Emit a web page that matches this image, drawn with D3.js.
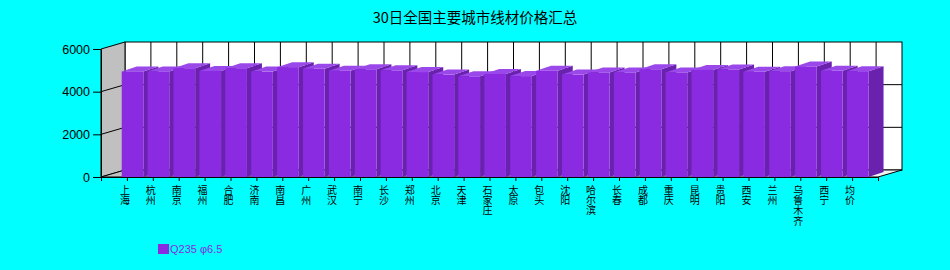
<!DOCTYPE html>
<html>
<head>
<meta charset="utf-8">
<script src="https://cdn.jsdelivr.net/npm/d3@7"></script>
<style>
  html, body { margin: 0; padding: 0; background: #00ffff; }
  svg { display: block; }
</style>
</head>
<body>
<svg id="chart" width="950" height="270"></svg>
<script>
const title = "30日全国主要城市线材价格汇总";
const seriesName = "Q235 φ6.5";
const cities = ["上海", "杭州", "南京", "福州", "合肥", "济南", "南昌", "广州", "武汉", "南宁",
  "长沙", "郑州", "北京", "天津", "石家庄", "太原", "包头", "沈阳", "哈尔滨", "长春",
  "成都", "重庆", "昆明", "贵阳", "西安", "兰州", "乌鲁木齐", "西宁", "均价"];
const prices = [4950, 4950, 5100, 4970, 5100, 4940, 5150, 5070, 4980, 5050,
  5000, 4920, 4800, 4720, 4830, 4730, 4980, 4800, 4900, 4900,
  5050, 4900, 5020, 5040, 4930, 4960, 5180, 4975, 4960];
const yTicks = [0, 2000, 4000, 6000];

const svg = d3.select("#chart");
const width = 950, height = 270;

// front plane and depth offsets
const x = d3.scaleLinear().domain([0, 30]).range([101, 878]);
const y = d3.scaleLinear().domain([0, 6000]).range([177, 49]);
const depthX = 24, depthY = 7;
const barDX = 15, barDY = 5;

const x0 = x(0), x1 = x(30), yTop = y(6000), yBase = y(0);

// title
svg.append("text")
  .attr("x", width / 2)
  .attr("y", 22.5)
  .attr("text-anchor", "middle")
  .style("font-family", "'Noto Sans CJK SC', sans-serif")
  .style("font-size", "14.5px")
  .attr("fill", "#000")
  .text(title);

// back wall
svg.append("rect")
  .attr("x", x0 + depthX).attr("y", yTop - depthY)
  .attr("width", x1 - x0).attr("height", yBase - yTop)
  .attr("fill", "#fff").attr("stroke", "#000");

// left wall
svg.append("polygon")
  .attr("points", [[x0, yTop], [x0 + depthX, yTop - depthY], [x0 + depthX, yBase - depthY], [x0, yBase]].join(" "))
  .attr("fill", "#c0c0c0").attr("stroke", "#000");

// floor
const floorGrad = svg.append("defs").append("linearGradient")
  .attr("id", "floorGrad").attr("x1", "0").attr("x2", "1");
floorGrad.append("stop").attr("offset", "0").attr("stop-color", "#c0c0c0");
floorGrad.append("stop").attr("offset", "1").attr("stop-color", "#f4f4f4");
svg.append("polygon")
  .attr("points", [[x0, yBase], [x0 + depthX, yBase - depthY], [x1 + depthX, yBase - depthY], [x1, yBase]].join(" "))
  .attr("fill", "url(#floorGrad)").attr("stroke", "#000");

// grid on back wall and left wall
svg.append("g").selectAll("line")
  .data(yTicks.slice(1, -1))
  .join("line")
  .attr("x1", x0 + depthX).attr("x2", x1 + depthX)
  .attr("y1", d => y(d) - depthY).attr("y2", d => y(d) - depthY)
  .attr("stroke", "#000");
svg.append("g").selectAll("line")
  .data(yTicks.slice(1, -1))
  .join("line")
  .attr("x1", x0).attr("x2", x0 + depthX)
  .attr("y1", d => y(d)).attr("y2", d => y(d) - depthY)
  .attr("stroke", "#000");
svg.append("g").selectAll("line")
  .data(d3.range(1, 30))
  .join("line")
  .attr("x1", d => x(d) + depthX).attr("x2", d => x(d) + depthX)
  .attr("y1", yTop - depthY).attr("y2", yBase - depthY)
  .attr("stroke", "#000");

// bars (3D boxes)
const step = x(1) - x(0);
const barW = step * 0.835;
const bars = svg.append("g");
cities.forEach((c, i) => {
  const bx = x(i + 0.8);
  const by = y(prices[i]);
  const g = bars.append("g");
  g.append("polygon")
    .attr("points", [[bx + barW, by], [bx + barW + barDX, by - barDY], [bx + barW + barDX, yBase - barDY], [bx + barW, yBase]].join(" "))
    .attr("fill", "#6a22ae");
  g.append("polygon")
    .attr("points", [[bx, by], [bx + barDX, by - barDY], [bx + barW + barDX, by - barDY], [bx + barW, by]].join(" "))
    .attr("fill", "#9a48ea");
  g.append("rect")
    .attr("x", bx).attr("y", by)
    .attr("width", barW).attr("height", yBase - by)
    .attr("fill", "#8a2be2");
});

// y axis
const yAxis = svg.append("g")
  .attr("transform", `translate(${x0},0)`)
  .call(d3.axisLeft(y).tickValues(yTicks).tickSize(8).tickPadding(3).tickSizeOuter(0).tickFormat(d3.format("d")));
yAxis.select(".domain").attr("stroke", "#000");
yAxis.selectAll("text")
  .style("font-family", "'Liberation Sans', Arial, sans-serif")
  .style("font-size", "12.5px")
  .attr("fill", "#000");

// x axis (ticks only)
const xAxis = svg.append("g")
  .attr("transform", `translate(0,${yBase})`)
  .call(d3.axisBottom(x).tickValues(d3.range(0, 31)).tickSize(4).tickSizeOuter(0));
xAxis.selectAll("text").remove();
xAxis.select(".domain").attr("stroke", "#000");

// vertical city labels: one upright character per text, stacked downwards
const chars = cities.flatMap((c, i) => Array.from(c).map((ch, j) => ({ ch, i, j })));
svg.append("g")
  .selectAll("text")
  .data(chars)
  .join("text")
  .attr("x", d => x(d.i + 1) - 2)
  .attr("y", d => 185 + d.j * 10.3)
  .style("writing-mode", "vertical-rl")
  .style("text-orientation", "upright")
  .style("font-family", "'Noto Sans CJK SC', sans-serif")
  .style("font-size", "10px")
  .attr("fill", "#000")
  .text(d => d.ch);

// legend
svg.append("rect")
  .attr("x", 158).attr("y", 244)
  .attr("width", 11).attr("height", 10)
  .attr("fill", "#8a2be2");
svg.append("text")
  .attr("x", 170).attr("y", 253)
  .style("font-family", "'Liberation Sans', Arial, sans-serif")
  .style("font-size", "11px")
  .attr("fill", "#8a2be2")
  .text(seriesName);
</script>
</body>
</html>
